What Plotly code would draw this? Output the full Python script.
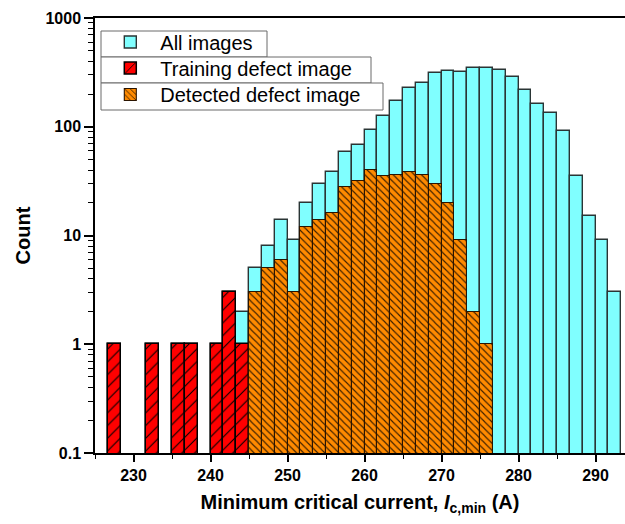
import numpy as np
import plotly.graph_objects as go

# Histogram bins of minimum critical current (A)
bin_start = 225.0
bin_width = 5 / 3
n_bins = 41

# Counts per bin (None = empty bin)
all_images = [None, 1, None, None, 1, None, 1, 1, None, 1, 3, 2,
              5, 8, 14, 9, 20, 30, 38, 58, 68, 94, 126, 173, 225, 250,
              311, 327, 318, 346, 346, 334, 284, 217, 162, 134, 91, 35,
              15, 9, 3]
training_defect = [None, 1, None, None, 1, None, 1, 1, None, 1, 3, 1,
                   None, None, None, None, None, None, None, None, None,
                   None, None, None, None, None, None, None, None, None,
                   None, None, None, None, None, None, None, None, None,
                   None, None]
detected_defect = [None, None, None, None, None, None, None, None, None,
                   None, None, None,
                   3, 5, 6, 3, 12, 14, 16, 28, 32, 40, 35, 36, 38, 36,
                   30, 20, 9, 2, 1,
                   None, None, None, None, None, None, None, None, None,
                   None]

y_tick_vals = [0.1, 1, 10, 100, 1000]
y_tick_text = ["0.1", "1", "10", "100", "1000"]

centers = bin_start + bin_width * (np.arange(n_bins) + 0.5)

FONT = "Liberation Sans, Arial, sans-serif"

# plot-area geometry in pixels (used to place the legend frames)
W, H = 625, 524
ML, MR, MT, MB = 95, 0, 18, 71
PW, PH = W - ML - MR, H - MT - MB


def px_to_paper(x, y):
    return (x - ML) / PW, (H - MB - y) / PH


fig = go.Figure()

fig.add_trace(go.Bar(
    x=centers, y=all_images, width=bin_width, name="All images",
    marker=dict(color="#80FFFF", line=dict(color="#2a3535", width=1.4)),
    legend="legend",
))
fig.add_trace(go.Bar(
    x=centers, y=training_defect, width=bin_width,
    name="Training defect image",
    marker=dict(color="#FF0000", line=dict(color="#000000", width=1.5),
                pattern=dict(shape="/", size=9, solidity=0.12,
                             fgcolor="#000000", bgcolor="#FF0000",
                             fillmode="replace")),
    legend="legend2",
))
fig.add_trace(go.Bar(
    x=centers, y=detected_defect, width=bin_width,
    name="Detected defect image",
    marker=dict(color="#FF8A00", line=dict(color="#2a1400", width=1.1),
                pattern=dict(shape="\\", size=5, solidity=0.22,
                             fgcolor="#3a1e00", bgcolor="#FF8A00",
                             fillmode="replace")),
    legend="legend3",
))

# log-axis minor tick positions (2..9 in each decade)
minor_vals = [m * 10.0 ** e for e in range(-1, 3) for m in range(2, 10)]

legend_style = dict(
    x=0.01, xanchor="left", yanchor="top",
    bgcolor="rgba(0,0,0,0)", borderwidth=0,
    font=dict(family=FONT, size=20, color="black"),
    itemwidth=50,
)

# one framed box per legend entry (left, top, right, bottom in px)
frames = [(101, 31, 267, 57), (101, 57, 371, 83), (101, 83, 383, 110)]
shapes = []
legend_tops = []
for x0, y0, x1, y1 in frames:
    px0, py0 = px_to_paper(x0, y1)
    px1, py1 = px_to_paper(x1, y0)
    shapes.append(dict(type="rect", xref="paper", yref="paper",
                       x0=px0, y0=py0, x1=px1, y1=py1, layer="above",
                       fillcolor="white", line=dict(color="#6a6a6a", width=1)))
    # legend box is ~43 px tall; centre its entry in the frame
    legend_tops.append(px_to_paper(0, (y0 + y1) / 2 - 21.5)[1])

fig.update_layout(
    width=W, height=H,
    margin=dict(l=ML, r=MR, t=MT, b=MB),
    paper_bgcolor="white", plot_bgcolor="white",
    barmode="overlay", bargap=0,
    showlegend=True,
    font=dict(family=FONT, color="black"),
    legend=dict(y=legend_tops[0], **legend_style),
    legend2=dict(y=legend_tops[1], **legend_style),
    legend3=dict(y=legend_tops[2], **legend_style),
    shapes=shapes,
    xaxis=dict(
        range=[225, 293.83], tick0=0, dtick=10,
        ticks="outside", ticklen=7, tickwidth=1.5, tickcolor="black",
        minor=dict(dtick=5, ticks="outside", ticklen=4, tickwidth=1.2,
                   tickcolor="black"),
        showline=True, linecolor="black", linewidth=1.5, mirror=True,
        showgrid=False, zeroline=False,
        tickfont=dict(family=FONT, size=16, weight="bold"),
        title=dict(text="Minimum critical current, <i>I</i><sub>c,min</sub> (A)",
                   font=dict(family=FONT, size=20, weight="bold"),
                   standoff=12),
    ),
    yaxis=dict(
        type="log", range=[-1, 3],
        tickvals=y_tick_vals, ticktext=y_tick_text,
        ticks="outside", ticklen=9, tickwidth=1.5, tickcolor="black",
        minor=dict(tickvals=minor_vals, ticks="outside", ticklen=5,
                   tickwidth=1.2, tickcolor="black"),
        showline=True, linecolor="black", linewidth=1.5, mirror=False,
        showgrid=False, zeroline=False,
        tickfont=dict(family=FONT, size=16, weight="bold"),
        title=dict(text="Count", font=dict(family=FONT, size=20, weight="bold"),
                   standoff=9),
    ),
)

fig.write_html("out.html")
